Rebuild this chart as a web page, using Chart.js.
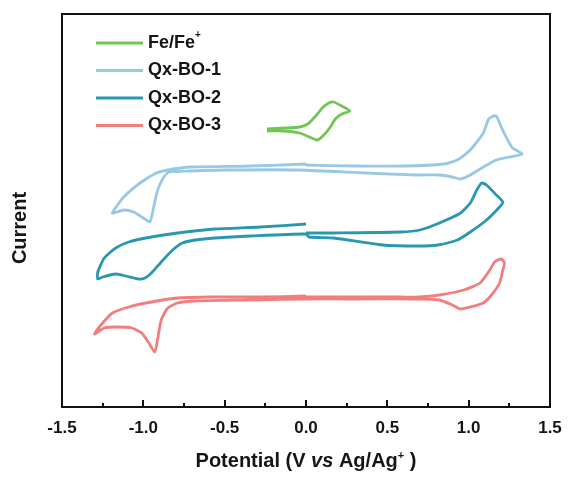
<!DOCTYPE html>
<html>
<head>
<meta charset="utf-8">
<script src="https://cdn.jsdelivr.net/npm/chart.js@4.4.1/dist/chart.umd.min.js"></script>
<style>
  html, body { margin: 0; padding: 0; background: #fff; }
  canvas { display: block; }
</style>
</head>
<body>
<canvas id="cvChart" width="568" height="482"></canvas>
<script>
// series names, in legend order
var seriesNames = ["Fe/Fe+", "Qx-BO-1", "Qx-BO-2", "Qx-BO-3"];

// ferrocene reference couple
var fcPotential = [-0.24, -0.13, -0.04, 0.01, 0.06, 0.10, 0.14, 0.17, 0.22, 0.27,
                   0.22, 0.18, 0.15, 0.11, 0.07, 0.02, -0.04, -0.14, -0.24];
var fcCurrent = [278, 279, 280, 283, 291, 299, 304, 305, 301, 296,
                 293, 288, 280, 272, 267, 270, 274, 276, 276];

// Qx-BO-1 (scan starts at 0 V, goes positive first)
var bo1Potential = [0.00, 0.30, 0.60, 0.85, 0.93, 1.01, 1.09, 1.12, 1.14, 1.17, 1.20, 1.24, 1.27, 1.33,
                    1.25, 1.17, 1.09, 1.01, 0.95, 0.90, 0.82, 0.68, 0.37, -0.04, -0.47, -0.71, -0.84, -0.87,
                    -0.90, -0.92, -0.94, -0.96, -1.00, -1.06, -1.12, -1.19,
                    -1.12, -1.02, -0.92, -0.85, -0.71, -0.34, 0.00];
var bo1Current = [242, 241, 241, 243, 247, 257, 274, 287, 290, 291, 280, 267, 259, 253,
                  250, 247, 240, 232, 228, 230, 232, 232, 234, 237, 237, 236, 235, 231,
                  222, 212, 197, 185, 189, 195, 197, 194,
                  210, 224, 234, 237, 240, 241, 243];

// Qx-BO-2
var bo2Potential = [0.00, 0.17, 0.58, 0.70, 0.82, 0.95, 1.01, 1.05, 1.08, 1.11, 1.17, 1.21,
                    1.19, 1.11, 1.01, 0.93, 0.81, 0.70, 0.47, 0.17, 0.02, 0.00, -0.34, -0.56, -0.68,
                    -0.76, -0.82, -0.89, -0.95, -0.99, -1.03, -1.11, -1.17, -1.25, -1.28,
                    -1.28, -1.24, -1.17, -1.09, -0.95, -0.74, -0.56, -0.28, 0.00];
var bo2Current = [174, 174, 175, 177, 184, 194, 204, 217, 224, 222, 212, 205,
                  200, 187, 175, 167, 162, 161, 162, 169, 170, 173, 171, 169, 167,
                  164, 157, 145, 134, 129, 128, 131, 133, 130, 128,
                  135, 149, 159, 165, 170, 175, 178, 180, 183];

// Qx-BO-3
var bo3Potential = [0.00, 0.58, 0.70, 0.82, 0.97, 1.07, 1.13, 1.16, 1.20, 1.22,
                    1.21, 1.19, 1.14, 1.09, 1.01, 0.95, 0.90, 0.82, 0.70, 0.27, 0.00, -0.34, -0.68,
                    -0.79, -0.85, -0.89, -0.91, -0.93, -0.97, -1.01, -1.07, -1.16, -1.24, -1.30,
                    -1.25, -1.19, -1.09, -0.95, -0.79, -0.58, -0.28, 0.00];
var bo3Current = [110, 110, 110, 112, 117, 124, 137, 145, 148, 144,
                  137, 124, 112, 104, 100, 98, 102, 107, 108, 108, 108, 107, 106,
                  104, 99, 87, 70, 55, 65, 74, 79, 80, 79, 73,
                  84, 94, 100, 105, 109, 110, 110, 111];

var xTicks = [-1.5, -1.0, -0.5, 0.0, 0.5, 1.0, 1.5];

var colors = ["#72c455", "#97c9e4", "#2a97b1", "#f27d7d"];
var FONT = "Arial, 'Liberation Sans', sans-serif";

function toPoints(xs, ys) {
    var pts = [];
    for (var i = 0; i < xs.length; i++) {
        pts.push({x: xs[i], y: ys[i]});
    }
    return pts;
}

var curves = [
    toPoints(fcPotential, fcCurrent),
    toPoints(bo1Potential, bo1Current),
    toPoints(bo2Potential, bo2Current),
    toPoints(bo3Potential, bo3Current)
];

// draws a run of text pieces; pieces can be italic or superscript
function drawRich(ctx, parts, x, y, size, align) {
    var total = 0;
    parts.forEach(function(p) {
        ctx.font = fontFor(p, size);
        total += ctx.measureText(p.t).width;
    });
    var cx = align === "center" ? x - total / 2 : x;
    ctx.textAlign = "left";
    parts.forEach(function(p) {
        ctx.font = fontFor(p, size);
        ctx.fillText(p.t, cx, p.sup ? y - size * 0.42 : y);
        cx += ctx.measureText(p.t).width;
    });
}
function fontFor(p, size) {
    var s = p.sup ? Math.round(size * 0.55) : size;
    return (p.it ? "italic " : "") + "bold " + s + "px " + FONT;
}

function labelParts(name) {
    if (name.slice(-1) === "+") {
        return [{t: name.slice(0, -1)}, {t: "+", sup: true}];
    }
    return [{t: name}];
}

var decorations = {
    id: "decorations",
    afterDraw: function(chart) {
        var ctx = chart.ctx;
        var area = chart.chartArea;
        var xs = chart.scales.x;
        ctx.save();

        // frame
        ctx.strokeStyle = "#111";
        ctx.lineWidth = 2;
        ctx.strokeRect(area.left, area.top, area.right - area.left, area.bottom - area.top);

        // inward ticks on the bottom axis, minor ones half way
        ctx.lineWidth = 2;
        for (var i = 0; i < xTicks.length; i++) {
            var px = Math.round(xs.getPixelForValue(xTicks[i]));
            ctx.beginPath();
            ctx.moveTo(px, area.bottom);
            ctx.lineTo(px, area.bottom - 7);
            ctx.stroke();
            if (i < xTicks.length - 1) {
                var mx = Math.round(xs.getPixelForValue((xTicks[i] + xTicks[i + 1]) / 2));
                ctx.beginPath();
                ctx.moveTo(mx, area.bottom);
                ctx.lineTo(mx, area.bottom - 4);
                ctx.stroke();
            }
        }

        // legend
        ctx.fillStyle = "#151515";
        ctx.textBaseline = "middle";
        chart.data.datasets.forEach(function(ds, k) {
            var ly = area.top + 29 + k * 27.5;
            ctx.strokeStyle = ds.borderColor;
            ctx.lineWidth = 3;
            ctx.beginPath();
            ctx.moveTo(area.left + 34, ly);
            ctx.lineTo(area.left + 81, ly);
            ctx.stroke();
            drawRich(ctx, labelParts(ds.label), area.left + 86, ly, 18, "left");
        });

        // axis titles
        ctx.textBaseline = "alphabetic";
        drawRich(ctx, [
            {t: "Potential (V "}, {t: "vs", it: true}, {t: " Ag/Ag"}, {t: "+", sup: true}, {t: " )"}
        ], (area.left + area.right) / 2, 467, 20, "center");

        ctx.translate(20, 228);
        ctx.rotate(-Math.PI / 2);
        ctx.textAlign = "center";
        ctx.textBaseline = "middle";
        ctx.font = "bold 20px " + FONT;
        ctx.fillText("Current", 0, 0);

        ctx.restore();
    }
};

new Chart(document.getElementById("cvChart"), {
    type: "scatter",
    data: {
        datasets: seriesNames.map(function(name, k) {
            return {
                label: name,
                data: curves[k],
                showLine: true,
                borderColor: colors[k],
                backgroundColor: colors[k],
                borderWidth: 2.8,
                pointRadius: 0,
                tension: 0.2
            };
        })
    },
    options: {
        responsive: false,
        devicePixelRatio: 1,
        animation: false,
        layout: { padding: { left: 62, right: 18, top: 14, bottom: 0 } },
        plugins: {
            legend: { display: false },
            tooltip: { enabled: false }
        },
        scales: {
            x: {
                type: "linear",
                min: -1.5,
                max: 1.5,
                afterBuildTicks: function(scale) {
                    scale.ticks = xTicks.map(function(v) { return {value: v}; });
                },
                afterFit: function(scale) {
                    scale.height = 75;
                    scale.paddingLeft = 0;
                    scale.paddingRight = 0;
                },
                ticks: {
                    padding: 11,
                    color: "#151515",
                    font: { family: FONT, size: 17, weight: "bold" },
                    callback: function(v) { return Number(v).toFixed(1); }
                },
                grid: { display: false, drawTicks: false },
                border: { display: false }
            },
            y: {
                display: false,
                min: 0,
                max: 393
            }
        }
    },
    plugins: [decorations]
});
</script>
</body>
</html>
